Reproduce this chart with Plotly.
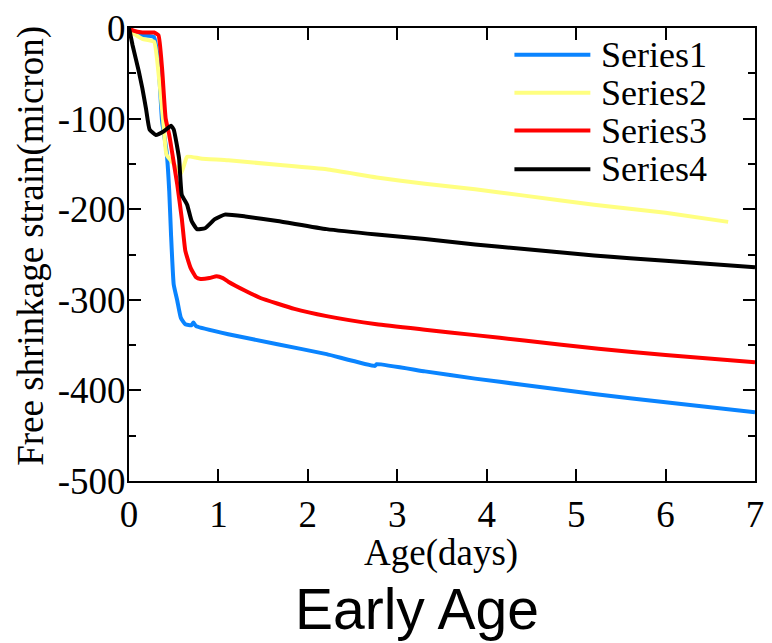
import plotly.graph_objects as go

# ---- data ----
s1_x = [0, 0.05, 0.15, 0.28, 0.33, 0.37, 0.42, 0.45, 0.47, 0.5, 0.54, 0.58, 0.63, 0.7, 0.72, 0.75,
        1.11, 1.66, 2.21, 2.75, 2.77, 3.31, 3.87, 4.42, 5.2, 6.0, 7.0]
s1_y = [0, -5, -8, -10, -40, -103, -136, -180, -228, -283, -301, -320, -327, -328, -325, -329,
        -338, -349, -360, -373, -371, -379, -387, -394, -404, -413, -424]

s2_x = [0, 0.05, 0.15, 0.28, 0.32, 0.38, 0.42, 0.5, 0.58, 0.62, 0.65, 0.8, 1.11, 1.66, 2.21,
        2.77, 3.31, 3.87, 4.42, 5.2, 6.0, 6.7]
s2_y = [0, -6, -12, -15, -40, -100, -140, -150, -161, -150, -142, -144, -146, -151, -156,
        -165, -172, -178, -185, -195, -204, -214]

s3_x = [0, 0.05, 0.15, 0.28, 0.33, 0.37, 0.41, 0.45, 0.48, 0.54, 0.59, 0.63, 0.69, 0.75, 0.8,
        0.9, 0.98, 1.05, 1.11, 1.3, 1.47, 1.85, 2.21, 2.77, 3.31, 3.87, 4.42, 5.25, 6.0, 7.0]
s3_y = [0, -3, -5, -5, -8, -45, -100, -118, -136, -173, -210, -246, -265, -275, -277,
        -276, -274, -276, -280, -290, -298, -310, -318, -327, -333, -339, -345, -354, -361, -369]

s4_x = [0, 0.04, 0.11, 0.15, 0.19, 0.23, 0.3, 0.39, 0.47, 0.5, 0.56, 0.59, 0.65, 0.7, 0.76,
        0.85, 0.96, 1.07, 1.3, 1.66, 2.21, 2.77, 3.31, 3.87, 4.42, 5.2, 6.0, 7.0]
s4_y = [0, -19, -48, -67, -89, -112, -118, -114, -108, -112, -144, -184, -195, -213, -222,
        -221, -211, -206, -208, -213, -222, -228, -233, -239, -244, -251, -257, -264]

series_names = ["Series1", "Series2", "Series3", "Series4"]
series_colors = ["#0A84FF", "#FFFF80", "#FF0000", "#000000"]

x_ticks = [0, 1, 2, 3, 4, 5, 6, 7]
y_ticks = [0, -100, -200, -300, -400, -500]

x_title = "Age(days)"
y_title = "Free shrinkage strain(micron)"
caption = "Early Age"

fig = go.Figure()
for name, xs, ys, col in zip(series_names, [s1_x, s2_x, s3_x, s4_x],
                             [s1_y, s2_y, s3_y, s4_y], series_colors):
    fig.add_trace(go.Scatter(x=xs, y=ys, mode="lines", name=name, showlegend=False,
                             line=dict(color=col, width=4, shape="spline", smoothing=0.4)))

serif = "Liberation Serif, Times New Roman, serif"
axis_common = dict(
    showline=True, linecolor="black", linewidth=2, mirror="ticks",
    ticks="inside", ticklen=12, tickwidth=1.5, tickcolor="black",
    showgrid=False, zeroline=False,
    tickfont=dict(family=serif, size=37, color="black"),
)

fig.update_xaxes(range=[0, 7], tickvals=x_ticks, ticktext=[str(v) for v in x_ticks],
                 ticklabelstandoff=0, **axis_common)
fig.update_yaxes(range=[-500, 0], tickvals=y_ticks, ticktext=[str(v) for v in y_ticks],
                 ticklabelstandoff=-6,
                 minor=dict(dtick=50, ticks="inside", ticklen=7, tickwidth=1.5, tickcolor="black"),
                 **axis_common)

# axis titles
fig.add_annotation(text=x_title, xref="paper", yref="paper", x=0.4985, y=-0.158,
                   xanchor="center", yanchor="middle", showarrow=False,
                   font=dict(family=serif, size=37, color="black"))
fig.add_annotation(text=y_title, xref="paper", yref="paper", x=-0.156, y=0.52,
                   xanchor="center", yanchor="middle", showarrow=False, textangle=-90,
                   font=dict(family=serif, size=37, color="black"))

fig.add_annotation(text=caption, xref="paper", yref="paper", x=0.46, y=-0.2835,
                   xanchor="center", yanchor="middle", showarrow=False,
                   font=dict(family="Liberation Sans, Arial, sans-serif", size=57, color="black"))

# legend (drawn as sample lines + labels, upper right inside the plot)
legend_rows = [0.9407, 0.857, 0.7736, 0.688]
for name, col, ry in zip(series_names, series_colors, legend_rows):
    fig.add_shape(type="line", xref="paper", yref="paper", x0=0.6157, x1=0.737, y0=ry, y1=ry,
                  line=dict(color=col, width=4))
    fig.add_annotation(text=name, xref="paper", yref="paper", x=0.7512, y=ry,
                       xanchor="left", yanchor="middle", showarrow=False,
                       font=dict(family=serif, size=36, color="black"))

fig.update_layout(
    width=772, height=643,
    margin=dict(l=129, r=8, t=26, b=162),
    plot_bgcolor="white", paper_bgcolor="white",
    showlegend=False,
)

fig.write_html("out.html")
